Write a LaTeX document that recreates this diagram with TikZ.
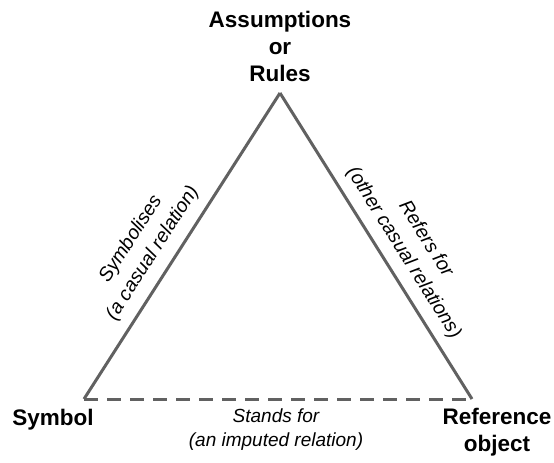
\documentclass[tikz,border=0pt]{standalone}
\usepackage{fontspec}
\setmainfont{Liberation Sans}
\begin{document}
\begin{tikzpicture}[x=1pt,y=-1pt,
  edge/.style={draw=black!62, line width=3pt, line join=miter},
  dashedge/.style={draw=black!62, line width=3pt, dash pattern=on 14pt off 9pt},
  corner/.style={font=\fontsize{22.5}{27}\selectfont\bfseries, align=center, inner sep=0pt},
  rel/.style={font=\fontsize{19}{24}\selectfont\itshape, align=center, inner sep=1pt},
  srel/.style={font=\fontsize{19.5}{26}\selectfont\itshape, align=center, inner sep=1pt}]
\useasboundingbox (0,0) rectangle (554,463);
\coordinate (top) at (280,93);
\coordinate (bl) at (84,399);
\coordinate (br) at (472,399);
\node[corner] (rules) at (280,46) {Assumptions\\or\\Rules};
\node[corner] (symbol) at (53,420) {Symbol};
\node[corner] (refobj) at (497,432) {Reference\\object};
\draw[edge] (bl) -- (top) node[srel, pos=0.44, sloped, above=9pt] (symb) {Symbolises\\(a casual relation)};
\draw[edge] (top) -- (br) node[srel, pos=0.557, sloped, above=8pt] (refers) {Refers for\\(other casual relations)};
\draw[dashedge] (bl) -- (br);
\node[rel] (stands) at (276,430) {Stands for\\(an imputed relation)};
\end{tikzpicture}
\end{document}
